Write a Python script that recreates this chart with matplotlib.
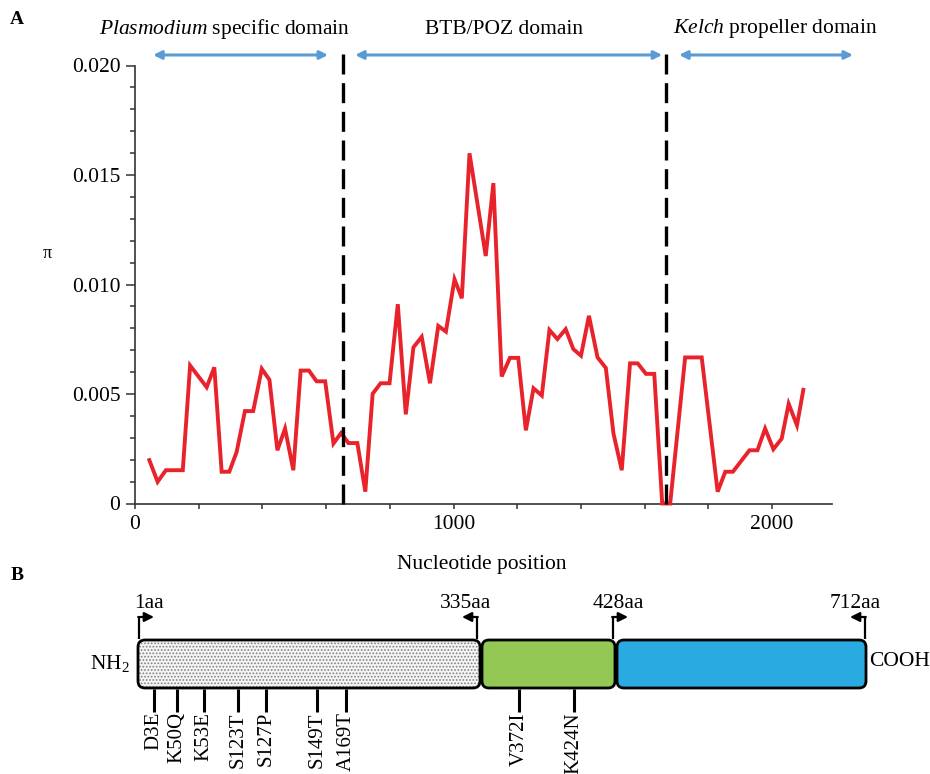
import matplotlib
matplotlib.use("Agg")
import matplotlib.pyplot as plt
from matplotlib.patches import FancyBboxPatch
from matplotlib.ticker import MultipleLocator, FixedLocator

plt.rcParams['font.family'] = ['Liberation Serif', 'DejaVu Serif']
plt.rcParams['mathtext.fontset'] = 'custom'
plt.rcParams['mathtext.rm'] = 'Liberation Serif'
plt.rcParams['mathtext.it'] = 'Liberation Serif:italic'
plt.rcParams['hatch.linewidth'] = 0.8

# --- Panel A data: nucleotide diversity (pi) along the sequence ---
position = [45, 71, 97, 150, 173, 225, 249, 272, 296, 319, 345, 371, 398, 422,
            447, 471, 497, 520, 546, 570, 597, 623, 647, 670, 698, 723, 746, 771,
            799, 825, 850, 874, 900, 926, 952, 976, 1003, 1026, 1050, 1101, 1125,
            1151, 1177, 1203, 1227, 1251, 1277, 1301, 1326, 1352, 1376, 1400,
            1425, 1452, 1478, 1502, 1528, 1554, 1578, 1604, 1630, 1655, 1680,
            1727, 1779, 1829, 1853, 1877, 1905, 1929, 1954, 1978, 2004, 2030,
            2052, 2078, 2098]
pi = [0.00198, 0.00099, 0.00152, 0.00152, 0.00630, 0.00531, 0.00622, 0.00145,
      0.00145, 0.00235, 0.00422, 0.00422, 0.00615, 0.00565, 0.00243, 0.00342,
      0.00152, 0.00607, 0.00607, 0.00558, 0.00558, 0.00274, 0.00322, 0.00276,
      0.00276, 0.00054, 0.00501, 0.00549, 0.00549, 0.00910, 0.00407, 0.00713,
      0.00761, 0.00549, 0.00811, 0.00785, 0.01024, 0.00937, 0.01599, 0.01130,
      0.01463, 0.00580, 0.00665, 0.00665, 0.00334, 0.00526, 0.00493, 0.00792,
      0.00751, 0.00796, 0.00705, 0.00675, 0.00857, 0.00667, 0.00619, 0.00319,
      0.00152, 0.00640, 0.00640, 0.00592, 0.00592, 0.0, 0.0, 0.00667, 0.00667,
      0.00054, 0.00145, 0.00145, 0.00198, 0.00243, 0.00243, 0.00342, 0.00248,
      0.00296, 0.00455, 0.00357, 0.00519]

domain_borders = [654, 1667]
domain_names = [r'$\mathit{Plasmodium}$ specific domain', 'BTB/POZ domain',
                r'$\mathit{Kelch}$ propeller domain']
domain_arrows = [(57, 606), (691, 1655), (1708, 2254)]

# --- Panel B data: protein domains and mutations ---
aa_marks = ['1aa', '335aa', '428aa', '712aa']
mutations = ['D3E', 'K50Q', 'K53E', 'S123T', 'S127P', 'S149T', 'A169T',
             'V372I', 'K424N']

FS = 15.5
fig = plt.figure(figsize=(9.3, 7.74), dpi=100)

# ---------------- Panel A ----------------
ax = fig.add_axes([135 / 930, 1 - 503.5 / 774, (832 - 135) / 930, 438 / 774])
ax.plot(position, pi, color='#E8232B', lw=2.8, solid_joinstyle='miter', clip_on=False, zorder=3)
for b in domain_borders:
    ax.plot([b, b], [0, 0.02062], color='black', lw=2.4, dashes=(6, 2.6), clip_on=False, zorder=4)
for x0, x1 in domain_arrows:
    ax.annotate('', xy=(x1, 0.02048), xytext=(x0, 0.02048),
                arrowprops=dict(arrowstyle='<|-|>', color='#5B9BD5', lw=2.2,
                                mutation_scale=12, shrinkA=0, shrinkB=0),
                annotation_clip=False)
fig.text(225 / 930, 1 - 29 / 774, domain_names[0], ha='center', va='center', fontsize=FS)
fig.text(504 / 930, 1 - 29 / 774, domain_names[1], ha='center', va='center', fontsize=FS)
fig.text(775 / 930, 1 - 29 / 774, domain_names[2], ha='center', va='center', fontsize=FS)

ax.set_xlim(0, 2188)
ax.set_ylim(0, 0.020)
ax.spines['top'].set_visible(False)
ax.spines['right'].set_visible(False)
for s in ['left', 'bottom']:
    ax.spines[s].set_color('#333333')
    ax.spines[s].set_linewidth(1.2)
ax.xaxis.set_major_locator(FixedLocator([0, 1000, 2000]))
ax.xaxis.set_minor_locator(MultipleLocator(200))
ax.set_xticklabels(['0', '1000', '2000'])
ax.set_yticks([0, 0.005, 0.010, 0.015, 0.020])
ax.yaxis.set_minor_locator(MultipleLocator(0.001))
ax.set_yticklabels(['0', '0.005', '0.010', '0.015', '0.020'])
ax.tick_params(axis='x', which='both', direction='out', length=3.6, width=1.1,
               color='#333333', labelsize=FS, pad=5)
ax.tick_params(axis='y', which='major', direction='out', length=6.5, width=1.1,
               color='#333333', labelsize=FS, pad=4)
ax.tick_params(axis='y', which='minor', direction='out', length=3.6, width=1.1,
               color='#333333')
fig.text(482 / 930, 1 - 565 / 774, 'Nucleotide position', ha='center', va='center', fontsize=FS)
fig.text(47 / 930, 1 - 254 / 774, 'π', ha='center', va='center', fontsize=13)
fig.text(17 / 930, 1 - 20 / 774, 'A', ha='center', va='center', fontsize=14, fontweight='bold')
fig.text(17 / 930, 1 - 575 / 774, 'B', ha='center', va='center', fontsize=14, fontweight='bold')

# ---------------- Panel B (schematic) ----------------
bx = fig.add_axes([0, 0, 1, 214 / 774])
bx.set_xlim(0, 930)
bx.set_ylim(774, 560)
bx.axis('off')

box_edges = [138, 481, 616, 867]
box_top, box_h = 640, 48
box_colors = ['#F4F4F4', '#92C853', '#29ABE2']
for i, fc in enumerate(box_colors):
    x0, x1 = box_edges[i] + (1 if i else 0), box_edges[i + 1] - 1
    if i == 0:
        bx.add_patch(FancyBboxPatch((x0, box_top), x1 - x0, box_h,
                                    boxstyle='round,pad=0,rounding_size=7',
                                    facecolor=fc, edgecolor='#808080', hatch='.....', lw=0))
        fc = 'none'
    bx.add_patch(FancyBboxPatch((x0, box_top), x1 - x0, box_h,
                                boxstyle='round,pad=0,rounding_size=7',
                                facecolor=fc, edgecolor='black', lw=2.0))

# bent arrows at domain boundaries
arrow_x = [139, 477, 613, 865]
arrow_dir = [1, -1, 1, -1]
label_x = [149, 465, 618, 855]
for ax_x, d, lx, lab in zip(arrow_x, arrow_dir, label_x, aa_marks):
    bx.plot([ax_x, ax_x], [box_top - 1, 617], color='black', lw=1.6, solid_capstyle='butt')
    bx.annotate('', xy=(ax_x + d * 15, 617), xytext=(ax_x - d * 0.8, 617),
                arrowprops=dict(arrowstyle='-|>', color='black', lw=1.6,
                                mutation_scale=14, shrinkA=0, shrinkB=0))
    bx.text(lx, 603, lab, ha='center', va='center', fontsize=FS)

bx.text(130, 664, r'NH$_2$', ha='right', va='center', fontsize=FS)
bx.text(869, 662, 'COOH', ha='left', va='center', fontsize=FS)

mut_x = [154, 177, 204, 238, 266, 317, 346, 519, 574]
for mx, lab in zip(mut_x, mutations):
    bx.plot([mx, mx], [box_top + box_h + 1, 712], color='black', lw=2.2, solid_capstyle='butt')
    bx.text(mx, 712, lab, rotation=90, ha='center', va='top', fontsize=15, clip_on=False)

fig.savefig('out.png', dpi=100)
